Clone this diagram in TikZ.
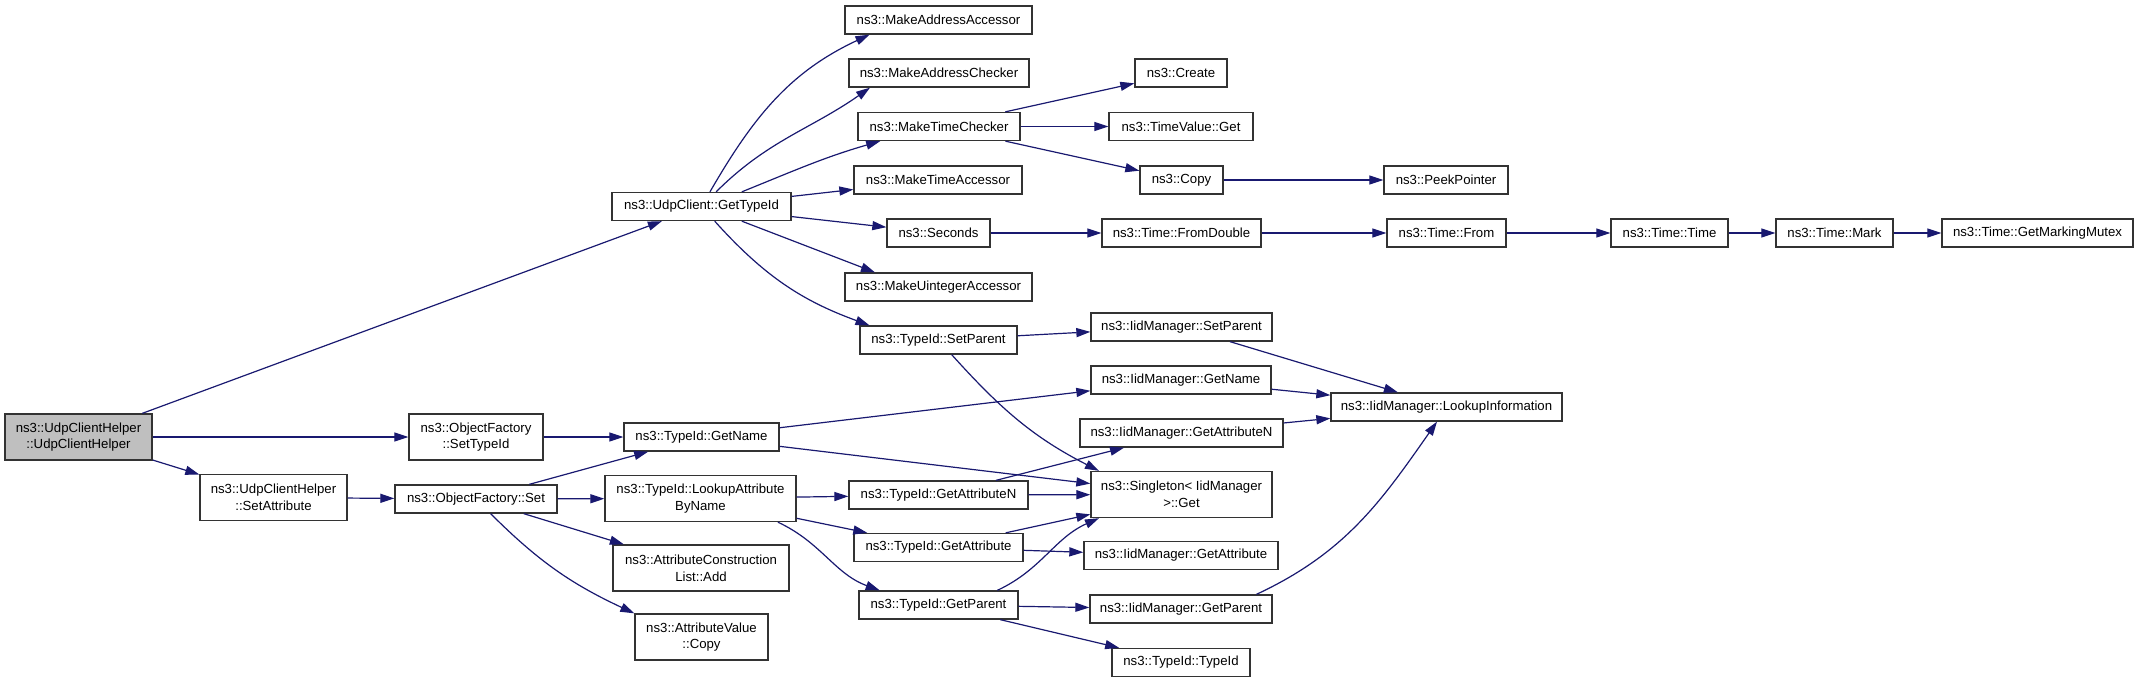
\documentclass[tikz,border=0pt]{standalone}
\usepackage{fontspec}
\setmainfont{Liberation Sans}
\usetikzlibrary{arrows.meta}
\definecolor{edgeblue}{RGB}{25,25,112}
\definecolor{startgray}{RGB}{191,191,191}

\begin{document}
\begin{tikzpicture}[x=0.75pt, y=-0.75pt,
    fn/.style={draw=black!80, line width=1pt, fill=white, inner sep=2pt,
        minimum height=21pt, align=center, font=\fontsize{9.9pt}{12.5pt}\selectfont},
    tall/.style={fn, minimum height=34.5pt},
    boxw/.style={minimum width=#1*0.75pt},
    call/.style={edgeblue, line width=0.9pt, -{Triangle[length=10.5pt,width=6.8pt]}}]
    \useasboundingbox (0,0) rectangle (2139,683);

    \node[tall, boxw=147, fill=startgray] (helper) at (78.5,437) {ns3::UdpClientHelper\\::UdpClientHelper};

    \foreach \n/\x/\y/\w/\t in {settypeid/476/437/134/{ns3::ObjectFactory\\::SetTypeId},
        setattr/273.5/497.5/147/{ns3::UdpClientHelper\\::SetAttribute},
        singleton/1181.5/494.5/181/{ns3::Singleton< IidManager\\ >::Get},
        lookupattr/700.5/498.5/191/{ns3::TypeId::LookupAttribute\\ByName},
        attrlist/701/568/176/{ns3::AttributeConstruction\\List::Add},
        avcopy/701.5/637/133/{ns3::AttributeValue\\::Copy}}
        {\node[tall, boxw=\w] (\n) at (\x,\y) {\t};}

    \foreach \n/\x/\y/\w/\t in {ofset/476/499/162/ns3::ObjectFactory::Set,
        gettypeid/701.5/206.5/179/ns3::UdpClient::GetTypeId,
        maa/938.5/20/187/ns3::MakeAddressAccessor,
        mac/939/73/180/ns3::MakeAddressChecker,
        mtc/939/126.5/162/ns3::MakeTimeChecker,
        mta/938/180/168/ns3::MakeTimeAccessor,
        seconds/938.5/233/103/ns3::Seconds,
        mua/938.5/287/187/ns3::MakeUintegerAccessor,
        tsetparent/938.5/340/157/ns3::TypeId::SetParent,
        create/1181/73/92/ns3::Create,
        tvget/1181/126.5/144/ns3::TimeValue::Get,
        copy/1181.5/180/83/ns3::Copy,
        fromdouble/1181.5/233/159/ns3::Time::FromDouble,
        isetparent/1181.5/327/181/ns3::IidManager::SetParent,
        igetname/1181/380/180/ns3::IidManager::GetName,
        igetattrn/1181.5/433/203/ns3::IidManager::GetAttributeN,
        lookupinfo/1446.5/407/231/ns3::IidManager::LookupInformation,
        tgetname/701.5/437/155/ns3::TypeId::GetName,
        tgetattrn/938.5/495/179/ns3::TypeId::GetAttributeN,
        tgetattr/938.5/547.5/169/ns3::TypeId::GetAttribute,
        igetattr/1181/555.5/194/ns3::IidManager::GetAttribute,
        tgetparent/938.5/605/159/ns3::TypeId::GetParent,
        igetparent/1181/609/182/ns3::IidManager::GetParent,
        typeid/1181/662.5/138/ns3::TypeId::TypeId,
        peek/1446/180/124/ns3::PeekPointer,
        from/1446.5/233/119/ns3::Time::From,
        time/1669.5/233/117/ns3::Time::Time,
        mark/1834.5/233/117/ns3::Time::Mark,
        mutex/2037.5/233/191/ns3::Time::GetMarkingMutex}
        {\node[fn, boxw=\w] (\n) at (\x,\y) {\t};}

    \foreach \a/\b in {helper/gettypeid, helper/settypeid, helper/setattr, setattr/ofset,
        settypeid/tgetname, ofset/tgetname, ofset/lookupattr, ofset/attrlist,
        gettypeid/mta, gettypeid/seconds,
        mtc/create, mtc/tvget, mtc/copy, copy/peek,
        seconds/fromdouble, fromdouble/from, from/time, time/mark, mark/mutex,
        tsetparent/isetparent, isetparent/lookupinfo, igetname/lookupinfo, igetattrn/lookupinfo,
        tgetname/igetname, tgetname/singleton, lookupattr/tgetattrn, lookupattr/tgetattr,
        tgetattrn/igetattrn, tgetattrn/singleton, tgetattr/singleton, tgetattr/igetattr,
        tgetparent/igetparent, tgetparent/typeid}
        {\draw[call] (\a) -- (\b);}

    % curved calls
    \draw[call] (gettypeid) to[out=60, in=-155] (maa.-168);
    \draw[call] (gettypeid) to[out=45, in=-145] (mac.-168);
    \draw[call] (gettypeid.20) to[out=22, in=-164] (mtc.-166);
    \draw[call] (gettypeid.-20) -- (mua.167);
    \draw[call] (gettypeid) to[out=-48, in=160] (tsetparent.168);
    \draw[call] (tsetparent) to[out=-48, in=153] (singleton.164);
    \draw[call] (ofset) to[out=-45, in=155] (avcopy.north west);
    \draw[call] (lookupattr.-17) to[out=-25, in=160] (tgetparent.166);
    \draw[call] (tgetparent.14) to[out=25, in=-156] (singleton.-164);
    \draw[call] (igetparent.11) to[out=25, in=-125] (lookupinfo.-123);
\end{tikzpicture}
\end{document}
